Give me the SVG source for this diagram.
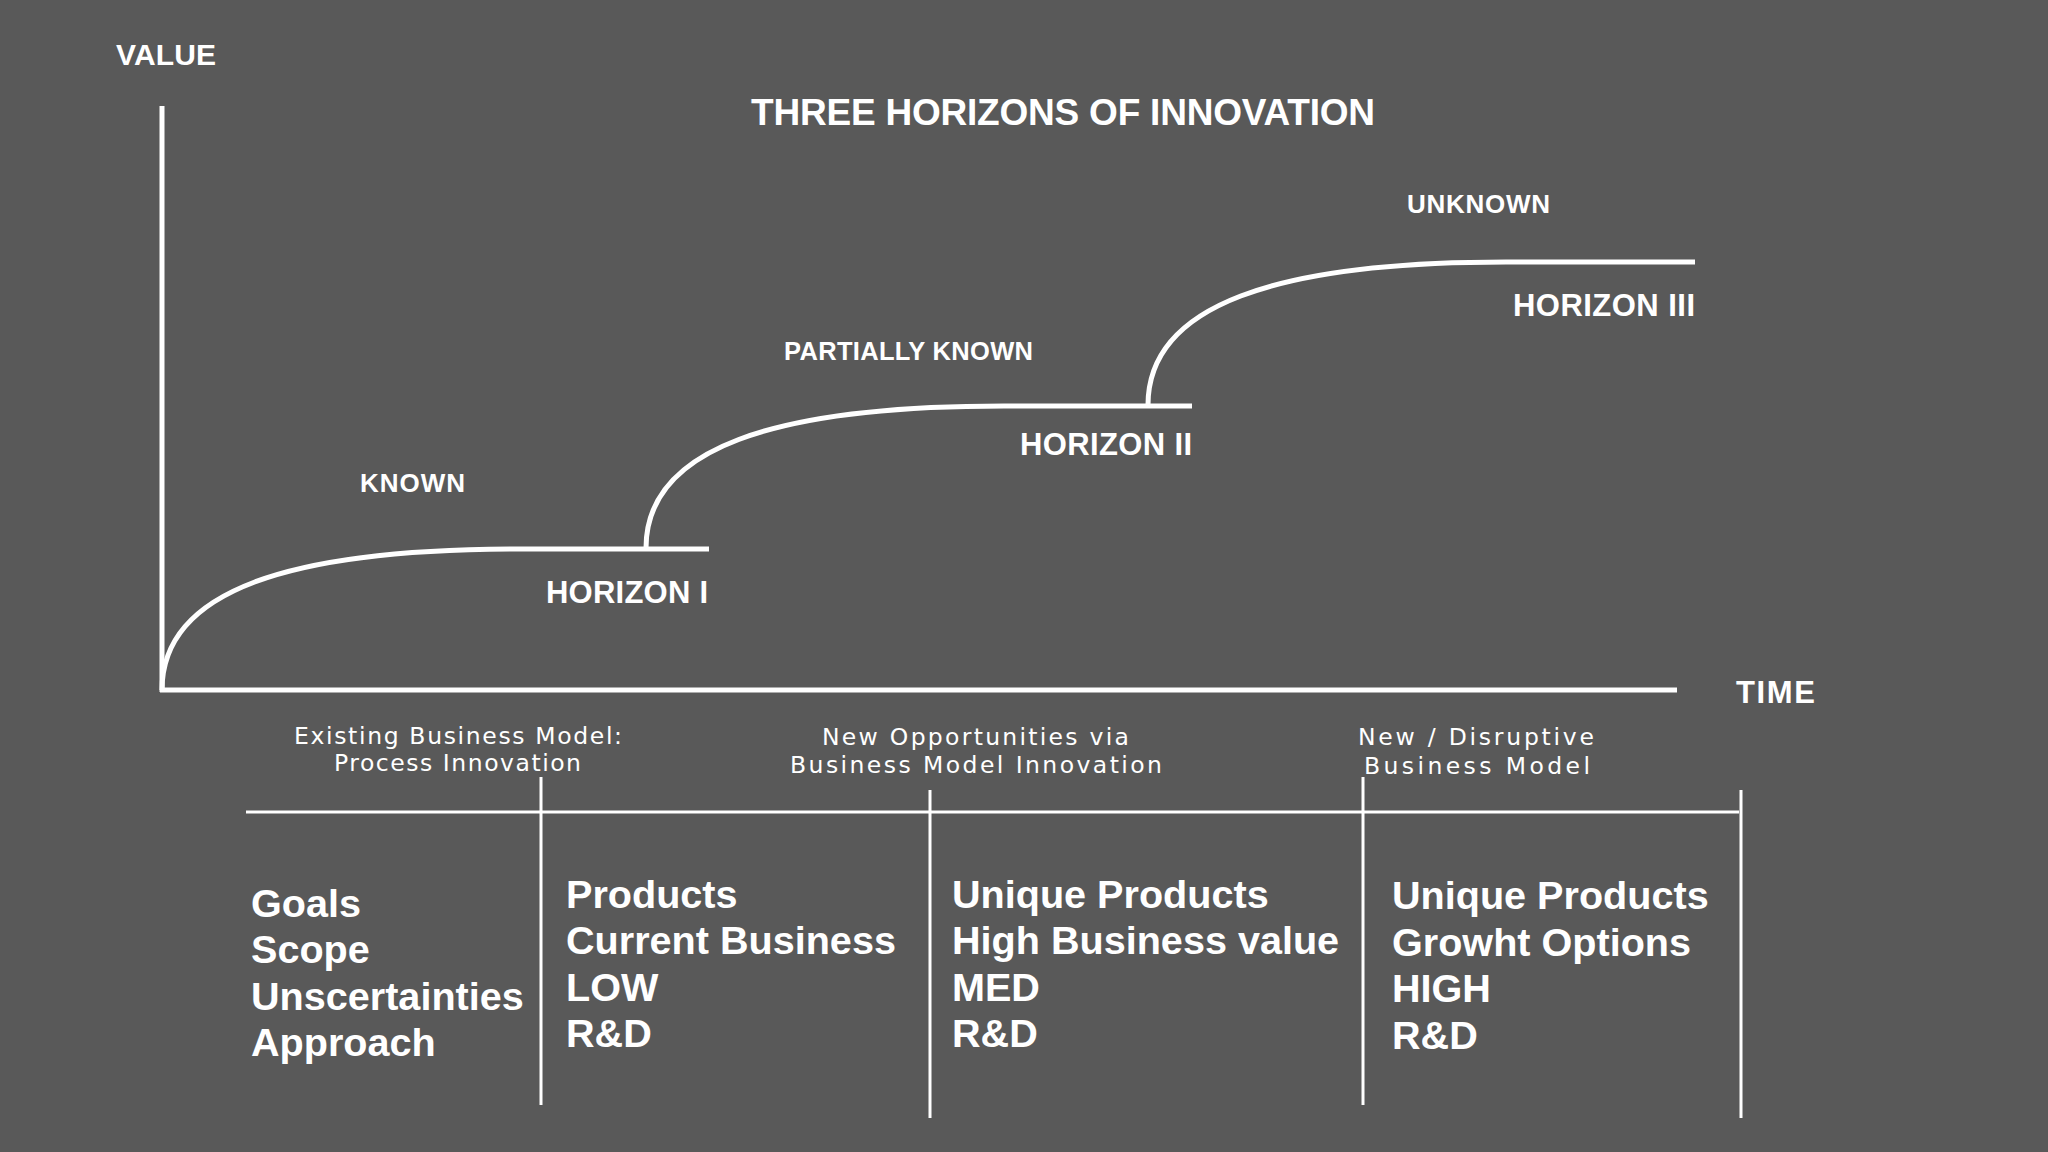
<svg xmlns="http://www.w3.org/2000/svg" width="2048" height="1152" viewBox="0 0 2048 1152">
<style>
.bg{fill:#595959}
.ax{stroke:#fff;stroke-width:5;fill:none}
.cv{stroke:#fff;stroke-width:5;fill:none;stroke-linecap:butt}
.tl{stroke:#fff;stroke-width:3;fill:none}
.hd{font-family:"Liberation Sans",Arial,sans-serif;font-weight:bold;fill:#fff}
.sub{font-family:"DejaVu Sans","Liberation Sans",sans-serif;font-size:23.5px;fill:#fff}
.cell{font-family:"Liberation Sans",Arial,sans-serif;font-weight:bold;font-size:39.6px;fill:#fff}
</style>
<rect class="bg" x="0" y="0" width="2048" height="1152"/>
<g id="title"><text class="hd" x="751" y="125" font-size="37" textLength="624">THREE HORIZONS OF INNOVATION</text></g>
<g id="axes">
<line class="ax" x1="162" y1="106" x2="162" y2="692"/>
<line class="ax" x1="160" y1="690" x2="1677" y2="690"/>
<text class="hd" x="116" y="65" font-size="30" textLength="100">VALUE</text>
<text class="hd" x="1736" y="703" font-size="31" textLength="79">TIME</text>
</g>
<g id="connectors">
<path id="curve-h1" class="cv" d="M162,690 c0,-100 128,-141 358,-141 L709,549"/>
<path id="curve-h2" class="cv" d="M646,548 c0,-100 128,-142 358,-142 L1192,406"/>
<path id="curve-h3" class="cv" d="M1148,405 c0,-100 128,-143 358,-143 L1695,262"/>
</g>
<g id="horizon1">
<text class="hd" x="360" y="492" font-size="26" textLength="105">KNOWN</text>
<text class="hd" x="546" y="603" font-size="31" textLength="162">HORIZON I</text>
</g>
<g id="horizon2">
<text class="hd" x="784" y="360" font-size="25.5" textLength="249">PARTIALLY KNOWN</text>
<text class="hd" x="1020" y="455" font-size="31" textLength="172">HORIZON II</text>
</g>
<g id="horizon3">
<text class="hd" x="1407" y="213" font-size="26" textLength="143">UNKNOWN</text>
<text class="hd" x="1513" y="316" font-size="31" textLength="182">HORIZON III</text>
</g>
<g id="subtitles">
<text class="sub" x="294" y="744" textLength="328">Existing Business Model:</text>
<text class="sub" x="334" y="771" textLength="247">Process Innovation</text>
<text class="sub" x="822" y="745" textLength="307">New Opportunities via</text>
<text class="sub" x="790" y="773" textLength="372">Business Model Innovation</text>
<text class="sub" x="1358" y="745" textLength="236">New / Disruptive</text>
<text class="sub" x="1364" y="774" textLength="226">Business Model</text>
</g>
<g id="table">
<line class="tl" x1="246" y1="812" x2="1739" y2="812"/>
<line class="tl" x1="541" y1="777" x2="541" y2="1105"/>
<line class="tl" x1="930" y1="790" x2="930" y2="1118"/>
<line class="tl" x1="1363" y1="777" x2="1363" y2="1105"/>
<line class="tl" x1="1741" y1="790" x2="1741" y2="1118"/>
</g>
<g id="col-labels" class="cell">
<text x="251" y="917">Goals</text>
<text x="251" y="963">Scope</text>
<text x="251" y="1010">Unscertainties</text>
<text x="251" y="1056">Approach</text>
</g>
<g id="col-h1" class="cell">
<text x="566" y="908">Products</text>
<text x="566" y="954">Current Business</text>
<text x="566" y="1001">LOW</text>
<text x="566" y="1047">R&amp;D</text>
</g>
<g id="col-h2" class="cell">
<text x="952" y="908">Unique Products</text>
<text x="952" y="954">High Business value</text>
<text x="952" y="1001">MED</text>
<text x="952" y="1047">R&amp;D</text>
</g>
<g id="col-h3" class="cell">
<text x="1392" y="909">Unique Products</text>
<text x="1392" y="956">Growht Options</text>
<text x="1392" y="1002">HIGH</text>
<text x="1392" y="1049">R&amp;D</text>
</g>
</svg>
